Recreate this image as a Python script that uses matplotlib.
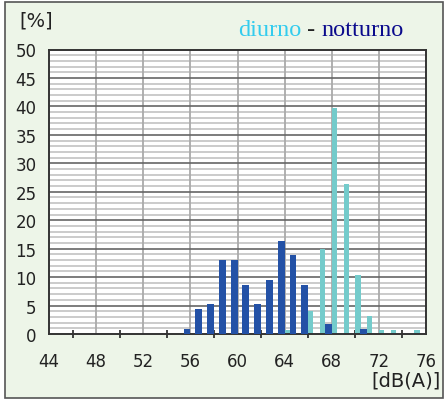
import matplotlib
matplotlib.use("Agg")
import matplotlib.pyplot as plt
from matplotlib.patches import Rectangle
import numpy as np

# Data (dB(A) levels and percentages)
levels = [56, 57, 58, 59, 60, 61, 62, 63, 64, 65, 66, 67, 68, 69, 70, 71, 72, 73, 74, 75]
notturno = [0.9, 4.4, 5.3, 13.0, 13.0, 8.6, 5.3, 9.5, 16.3, 13.9, 8.6, 0, 1.8, 0, 0, 0.9, 0, 0, 0, 0]
diurno = [0, 0, 0, 0, 0, 0, 0, 0, 0.7, 0, 4.0, 15.0, 39.7, 26.4, 10.4, 3.2, 0.7, 0.7, 0, 0.7]
xtick_labels = [44, 48, 52, 56, 60, 64, 68, 72, 76]
ytick_labels = [0, 5, 10, 15, 20, 25, 30, 35, 40, 45, 50]

W, H = 448, 402
fig = plt.figure(figsize=(W / 100, H / 100), dpi=100, facecolor="white")
bg = "#EDF5E8"
fig.patches.append(Rectangle((5 / W, 1 - 399 / H), 438 / W, 396 / H, transform=fig.transFigure,
                             facecolor=bg, edgecolor="#555555", linewidth=1.2, zorder=-5))

left, right, top, bottom = 49, 426, 50.5, 335
ax = fig.add_axes([left / W, 1 - bottom / H, (right - left) / W, (bottom - top) / H])
ax.set_zorder(2)
ax.set_facecolor("white")
ax.set_xlim(44, 76)
ax.set_ylim(0, 50)

# grid
for y in range(1, 50):
    if y % 5 != 0:
        ax.axhline(y, color="#bdbdbd", lw=1.1, zorder=1)
for y in range(5, 50, 5):
    ax.axhline(y, color="#666666", lw=1.2, zorder=1.5)
for x in range(48, 76, 4):
    ax.axvline(x, color="#aaaaaa", lw=1.3, zorder=1.2)

lv = np.array(levels)
ax.bar(lv, notturno, width=-0.58, align="edge", color="#2351A6", zorder=3)
ax.bar(lv, diurno, width=0.45, align="edge", color="#74CBCB", zorder=2.5)

ax.set_xticks(xtick_labels)
ax.set_xticklabels([str(v) for v in xtick_labels])
ax.set_xticks(np.arange(46, 76, 4), minor=True)
ax.set_yticks(ytick_labels)
ax.set_yticklabels([str(v) for v in ytick_labels])
ax.tick_params(axis="x", which="major", length=0, pad=13, labelsize=12, labelcolor="#222222")
ax.tick_params(axis="x", which="minor", length=6, width=1.2, direction="inout", color="#222222")
ax.tick_params(axis="y", which="both", length=0, pad=9, labelsize=12, labelcolor="#222222")
for s in ax.spines.values():
    s.set_color("#333333")
    s.set_linewidth(1.4)

fig.text(19 / W, 1 - 21 / H, "[%]", fontsize=14, color="#222222", va="center", ha="left")
fig.text(441 / W, 1 - 381 / H, "[dB(A)]", fontsize=14, color="#222222", va="center", ha="right")

fs = 17.5
t1 = fig.text(238 / W, 1 - 36 / H, "diurno", fontsize=fs, family="Liberation Serif",
              color="#33CCEE", va="baseline", ha="left")
fig.canvas.draw()
r = fig.canvas.get_renderer()
bb = t1.get_window_extent(r)
t2 = fig.text(bb.x1 / W, 1 - 36 / H, " - ", fontsize=fs, family="Liberation Serif",
              color="#222222", va="baseline", ha="left")
bb2 = t2.get_window_extent(r)
fig.text(bb2.x1 / W, 1 - 36 / H, "notturno", fontsize=fs, family="Liberation Serif",
         color="#0A0A8C", va="baseline", ha="left")

fig.savefig("out.png", dpi=100, facecolor=fig.get_facecolor())
